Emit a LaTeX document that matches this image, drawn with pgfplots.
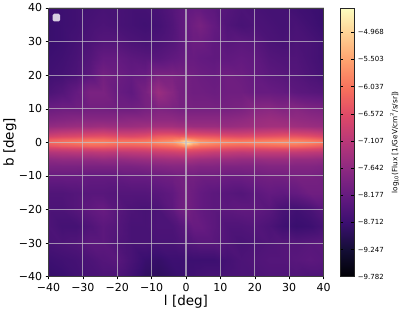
\documentclass[border=0pt]{standalone}
\usepackage{fontspec}
\setmainfont{DejaVu Sans}
\usepackage{pgfplots}
\pgfplotsset{compat=1.18}
\pgfplotsset{colormap={magma}{
rgb255(0)=(0,0,4) rgb255(1)=(20,14,54) rgb255(2)=(59,15,112) rgb255(3)=(100,26,128) rgb255(4)=(140,41,129)
rgb255(5)=(183,55,121) rgb255(6)=(222,73,104) rgb255(7)=(247,112,92) rgb255(8)=(254,159,109) rgb255(9)=(254,207,146) rgb255(10)=(252,253,191)}}
\definecolor{gridc}{RGB}{195,190,200}
\begin{document}
\begin{tikzpicture}[x=1pt,y=1pt]
\useasboundingbox (0,0) rectangle (407,313);
\begin{axis}[
 at={(48.5pt,36.3pt)},anchor=south west,
 scale only axis,width=275pt,height=268.7pt,
 view={0}{90},colormap name=magma,
 xmin=-40,xmax=40,ymin=-40,ymax=40,
 point meta min=-9.782,point meta max=-4.49,
 xtick={-40,-30,...,40},ytick={-40,-30,...,40},
 xticklabels={−40,−30,−20,−10,0,10,20,30,40},
 yticklabels={−40,−30,−20,−10,0,10,20,30,40},
 tick label style={font=\fontsize{11}{11}\selectfont},
 tick style={black,line width=0.5pt},
 tick align=outside,major tick length=2.8pt,
 xtick pos=lower,ytick pos=left,
 grid=major,grid style={gridc,opacity=0.72,line width=1.1pt},
 axis on top,
 axis line style={line width=0.5pt,black!75},
 xlabel={l [deg]},ylabel={b [deg]},
 label style={font=\fontsize{13.5}{13.5}\selectfont},
 xlabel style={at={(axis description cs:0.5,-0.095)},anchor=center},
 ylabel style={at={(axis description cs:-0.14,0.5)},anchor=center},
 colorbar,
 colorbar style={
  at={(1.0625,1)},anchor=north west,
  scale only axis,width=13.6pt,height=268.7pt,
  ytick={-9.782,-9.247,-8.712,-8.177,-7.642,-7.107,-6.572,-6.037,-5.503,-4.968},
  yticklabels={−9.782,−9.247,−8.712,−8.177,−7.642,−7.107,−6.572,−6.037,−5.503,−4.968},
  yticklabel style={font=\fontsize{7}{7}\selectfont,xshift=0pt},
  tick style={black,line width=0.4pt},major tick length=2.8pt,
  axis line style={line width=0.5pt,black!85},
  ylabel={$\mathrm{log_{10}}$(Flux [1/GeV/cm$^2$/s/sr])},
  ylabel style={font=\fontsize{7.3}{7.3}\selectfont,at={(axis description cs:3.95,0.5)},anchor=center},
 },
]
\addplot3[surf,shader=interp,mesh/rows=25,mesh/cols=23] table {
-40 -40 -8.80
-36 -40 -8.75
-32 -40 -8.65
-28 -40 -8.55
-24 -40 -8.50
-20 -40 -8.50
-16 -40 -8.65
-12 -40 -8.85
-8 -40 -8.90
-4 -40 -8.80
-2 -40 -8.75
0 -40 -8.70
2 -40 -8.65
4 -40 -8.60
8 -40 -8.55
12 -40 -8.55
16 -40 -8.50
20 -40 -8.50
24 -40 -8.45
28 -40 -8.45
32 -40 -8.45
36 -40 -8.50
40 -40 -8.50
-40 -35 -8.70
-36 -35 -8.65
-32 -35 -8.60
-28 -35 -8.50
-24 -35 -8.40
-20 -35 -8.35
-16 -35 -8.55
-12 -35 -8.75
-8 -35 -8.80
-4 -35 -8.70
-2 -35 -8.70
0 -35 -8.70
2 -35 -8.70
4 -35 -8.70
8 -35 -8.70
12 -35 -8.60
16 -35 -8.50
20 -35 -8.45
24 -35 -8.40
28 -35 -8.40
32 -35 -8.35
36 -35 -8.30
40 -35 -8.35
-40 -30 -8.55
-36 -30 -8.50
-32 -30 -8.45
-28 -30 -8.30
-24 -30 -8.30
-20 -30 -8.45
-16 -30 -8.55
-12 -30 -8.55
-8 -30 -8.55
-4 -30 -8.55
-2 -30 -8.50
0 -30 -8.45
2 -30 -8.40
4 -30 -8.35
8 -30 -8.35
12 -30 -8.45
16 -30 -8.55
20 -30 -8.50
24 -30 -8.45
28 -30 -8.40
32 -30 -8.40
36 -30 -8.35
40 -30 -8.30
-40 -25 -8.50
-36 -25 -8.60
-32 -25 -8.60
-28 -25 -8.45
-24 -25 -8.30
-20 -25 -8.40
-16 -25 -8.55
-12 -25 -8.55
-8 -25 -8.50
-4 -25 -8.50
-2 -25 -8.40
0 -25 -8.30
2 -25 -8.15
4 -25 -8.15
8 -25 -8.30
12 -25 -8.45
16 -25 -8.45
20 -25 -8.40
24 -25 -8.50
28 -25 -8.65
32 -25 -8.75
36 -25 -8.70
40 -25 -8.55
-40 -20 -8.50
-36 -20 -8.50
-32 -20 -8.40
-28 -20 -8.25
-24 -20 -8.15
-20 -20 -8.35
-16 -20 -8.50
-12 -20 -8.55
-8 -20 -8.50
-4 -20 -8.30
-2 -20 -8.10
0 -20 -8.00
2 -20 -8.10
4 -20 -8.20
8 -20 -8.30
12 -20 -8.30
16 -20 -8.25
20 -20 -8.25
24 -20 -8.35
28 -20 -8.55
32 -20 -8.65
36 -20 -8.55
40 -20 -8.35
-40 -15 -8.45
-36 -15 -8.45
-32 -15 -8.40
-28 -15 -8.35
-24 -15 -8.35
-20 -15 -8.40
-16 -15 -8.40
-12 -15 -8.40
-8 -15 -8.35
-4 -15 -8.25
-2 -15 -8.10
0 -15 -8.00
2 -15 -8.10
4 -15 -8.20
8 -15 -8.30
12 -15 -8.35
16 -15 -8.40
20 -15 -8.30
24 -15 -8.20
28 -15 -8.25
32 -15 -8.20
36 -15 -8.05
40 -15 -8.05
-40 -10 -8.15
-36 -10 -8.15
-32 -10 -8.15
-28 -10 -8.20
-24 -10 -8.20
-20 -10 -8.20
-16 -10 -8.15
-12 -10 -8.15
-8 -10 -8.10
-4 -10 -8.05
-2 -10 -8.00
0 -10 -8.00
2 -10 -8.00
4 -10 -8.05
8 -10 -8.05
12 -10 -8.10
16 -10 -8.10
20 -10 -8.05
24 -10 -8.00
28 -10 -8.00
32 -10 -7.95
36 -10 -7.95
40 -10 -8.00
-40 -7 -7.90
-36 -7 -7.90
-32 -7 -7.90
-28 -7 -7.90
-24 -7 -7.90
-20 -7 -7.90
-16 -7 -7.90
-12 -7 -7.85
-8 -7 -7.80
-4 -7 -7.75
-2 -7 -7.75
0 -7 -7.75
2 -7 -7.75
4 -7 -7.80
8 -7 -7.80
12 -7 -7.85
16 -7 -7.85
20 -7 -7.85
24 -7 -7.80
28 -7 -7.80
32 -7 -7.80
36 -7 -7.80
40 -7 -7.85
-40 -5 -7.65
-36 -5 -7.60
-32 -5 -7.60
-28 -5 -7.60
-24 -5 -7.55
-20 -5 -7.60
-16 -5 -7.55
-12 -5 -7.50
-8 -5 -7.45
-4 -5 -7.40
-2 -5 -7.40
0 -5 -7.35
2 -5 -7.40
4 -5 -7.45
8 -5 -7.50
12 -5 -7.50
16 -5 -7.55
20 -5 -7.55
24 -5 -7.50
28 -5 -7.50
32 -5 -7.55
36 -5 -7.55
40 -5 -7.60
-40 -3 -7.20
-36 -3 -7.15
-32 -3 -7.10
-28 -3 -7.10
-24 -3 -7.05
-20 -3 -7.10
-16 -3 -7.05
-12 -3 -7.00
-8 -3 -6.90
-4 -3 -6.85
-2 -3 -6.80
0 -3 -6.75
2 -3 -6.80
4 -3 -6.85
8 -3 -6.95
12 -3 -7.00
16 -3 -7.05
20 -3 -7.00
24 -3 -7.00
28 -3 -7.00
32 -3 -7.00
36 -3 -7.05
40 -3 -7.10
-40 -2 -6.90
-36 -2 -6.85
-32 -2 -6.80
-28 -2 -6.75
-24 -2 -6.70
-20 -2 -6.75
-16 -2 -6.75
-12 -2 -6.70
-8 -2 -6.60
-4 -2 -6.50
-2 -2 -6.45
0 -2 -6.40
2 -2 -6.45
4 -2 -6.50
8 -2 -6.60
12 -2 -6.65
16 -2 -6.70
20 -2 -6.70
24 -2 -6.65
28 -2 -6.65
32 -2 -6.65
36 -2 -6.70
40 -2 -6.80
-40 -1 -6.50
-36 -1 -6.40
-32 -1 -6.35
-28 -1 -6.25
-24 -1 -6.25
-20 -1 -6.35
-16 -1 -6.35
-12 -1 -6.30
-8 -1 -6.20
-4 -1 -6.10
-2 -1 -5.95
0 -1 -5.60
2 -1 -5.90
4 -1 -6.05
8 -1 -6.15
12 -1 -6.25
16 -1 -6.30
20 -1 -6.25
24 -1 -6.20
28 -1 -6.15
32 -1 -6.15
36 -1 -6.25
40 -1 -6.40
-40 0 -6.15
-36 0 -6.05
-32 0 -5.95
-28 0 -5.85
-24 0 -5.85
-20 0 -5.95
-16 0 -5.95
-12 0 -5.90
-8 0 -5.75
-4 0 -5.60
-2 0 -5.25
0 0 -4.60
2 0 -5.15
4 0 -5.55
8 0 -5.70
12 0 -5.80
16 0 -5.85
20 0 -5.80
24 0 -5.75
28 0 -5.70
32 0 -5.70
36 0 -5.80
40 0 -5.95
-40 1 -6.40
-36 1 -6.30
-32 1 -6.25
-28 1 -6.15
-24 1 -6.15
-20 1 -6.25
-16 1 -6.25
-12 1 -6.20
-8 1 -6.05
-4 1 -5.95
-2 1 -5.85
0 1 -5.55
2 1 -5.80
4 1 -5.95
8 1 -6.05
12 1 -6.15
16 1 -6.20
20 1 -6.15
24 1 -6.10
28 1 -6.05
32 1 -6.05
36 1 -6.15
40 1 -6.30
-40 2 -6.80
-36 2 -6.70
-32 2 -6.65
-28 2 -6.55
-24 2 -6.50
-20 2 -6.60
-16 2 -6.65
-12 2 -6.55
-8 2 -6.35
-4 2 -6.30
-2 2 -6.35
0 2 -6.30
2 2 -6.35
4 2 -6.40
8 2 -6.45
12 2 -6.55
16 2 -6.60
20 2 -6.55
24 2 -6.50
28 2 -6.45
32 2 -6.45
36 2 -6.55
40 2 -6.70
-40 3 -7.15
-36 3 -7.05
-32 3 -7.00
-28 3 -6.95
-24 3 -6.90
-20 3 -7.00
-16 3 -7.00
-12 3 -6.95
-8 3 -6.80
-4 3 -6.80
-2 3 -6.85
0 3 -6.85
2 3 -6.85
4 3 -6.90
8 3 -6.95
12 3 -7.00
16 3 -7.00
20 3 -6.95
24 3 -6.90
28 3 -6.85
32 3 -6.90
36 3 -6.95
40 3 -7.05
-40 5 -7.60
-36 5 -7.55
-32 5 -7.50
-28 5 -7.50
-24 5 -7.45
-20 5 -7.50
-16 5 -7.50
-12 5 -7.45
-8 5 -7.40
-4 5 -7.40
-2 5 -7.45
0 5 -7.45
2 5 -7.50
4 5 -7.50
8 5 -7.50
12 5 -7.55
16 5 -7.50
20 5 -7.45
24 5 -7.40
28 5 -7.40
32 5 -7.45
36 5 -7.50
40 5 -7.55
-40 7 -7.85
-36 7 -7.80
-32 7 -7.75
-28 7 -7.75
-24 7 -7.75
-20 7 -7.75
-16 7 -7.70
-12 7 -7.70
-8 7 -7.65
-4 7 -7.65
-2 7 -7.70
0 7 -7.70
2 7 -7.70
4 7 -7.70
8 7 -7.70
12 7 -7.70
16 7 -7.65
20 7 -7.55
24 7 -7.50
28 7 -7.55
32 7 -7.60
36 7 -7.65
40 7 -7.70
-40 10 -8.10
-36 10 -8.05
-32 10 -8.05
-28 10 -8.00
-24 10 -8.00
-20 10 -8.05
-16 10 -8.05
-12 10 -7.95
-8 10 -7.85
-4 10 -7.90
-2 10 -7.95
0 10 -7.95
2 10 -7.95
4 10 -7.95
8 10 -7.95
12 10 -7.95
16 10 -7.90
20 10 -7.75
24 10 -7.70
28 10 -7.80
32 10 -7.75
36 10 -7.85
40 10 -7.90
-40 15 -8.50
-36 15 -8.40
-32 15 -8.20
-28 15 -7.90
-24 15 -7.90
-20 15 -8.15
-16 15 -8.25
-12 15 -7.95
-8 15 -7.50
-4 15 -7.75
-2 15 -7.95
0 15 -8.00
2 15 -8.05
4 15 -8.05
8 15 -8.10
12 15 -8.05
16 15 -8.05
20 15 -8.15
24 15 -8.15
28 15 -8.20
32 15 -8.30
36 15 -8.35
40 15 -8.40
-40 20 -8.65
-36 20 -8.60
-32 20 -8.50
-28 20 -8.30
-24 20 -8.00
-20 20 -8.10
-16 20 -8.20
-12 20 -8.15
-8 20 -7.90
-4 20 -7.90
-2 20 -7.95
0 20 -8.00
2 20 -8.05
4 20 -8.10
8 20 -8.15
12 20 -8.05
16 20 -8.10
20 20 -8.20
24 20 -8.30
28 20 -8.35
32 20 -8.40
36 20 -8.50
40 20 -8.60
-40 25 -8.70
-36 25 -8.65
-32 25 -8.55
-28 25 -8.40
-24 25 -8.20
-20 25 -8.20
-16 25 -8.30
-12 25 -8.35
-8 25 -8.35
-4 25 -8.25
-2 25 -8.20
0 25 -8.15
2 25 -8.15
4 25 -8.20
8 25 -8.25
12 25 -8.25
16 25 -8.20
20 25 -8.25
24 25 -8.40
28 25 -8.45
32 25 -8.45
36 25 -8.55
40 25 -8.65
-40 30 -8.75
-36 30 -8.70
-32 30 -8.60
-28 30 -8.50
-24 30 -8.40
-20 30 -8.40
-16 30 -8.50
-12 30 -8.55
-8 30 -8.50
-4 30 -8.40
-2 30 -8.30
0 30 -8.20
2 30 -8.10
4 30 -8.10
8 30 -8.25
12 30 -8.35
16 30 -8.30
20 30 -8.35
24 30 -8.50
28 30 -8.55
32 30 -8.50
36 30 -8.55
40 30 -8.65
-40 35 -8.75
-36 35 -8.70
-32 35 -8.65
-28 35 -8.55
-24 35 -8.50
-20 35 -8.55
-16 35 -8.60
-12 35 -8.65
-8 35 -8.60
-4 35 -8.45
-2 35 -8.30
0 35 -8.20
2 35 -8.05
4 35 -7.95
8 35 -8.20
12 35 -8.45
16 35 -8.55
20 35 -8.50
24 35 -8.55
28 35 -8.60
32 35 -8.55
36 35 -8.65
40 35 -8.75
-40 40 -8.70
-36 40 -8.70
-32 40 -8.65
-28 40 -8.60
-24 40 -8.55
-20 40 -8.55
-16 40 -8.60
-12 40 -8.60
-8 40 -8.55
-4 40 -8.40
-2 40 -8.30
0 40 -8.25
2 40 -8.20
4 40 -8.20
8 40 -8.30
12 40 -8.40
16 40 -8.50
20 40 -8.55
24 40 -8.60
28 40 -8.60
32 40 -8.65
36 40 -8.70
40 40 -8.75
};
\fill[white,opacity=0.8,rounded corners=1.5pt] (axis cs:-38.8,36.0) rectangle (axis cs:-36.6,38.3);
\end{axis}
\end{tikzpicture}
\end{document}
